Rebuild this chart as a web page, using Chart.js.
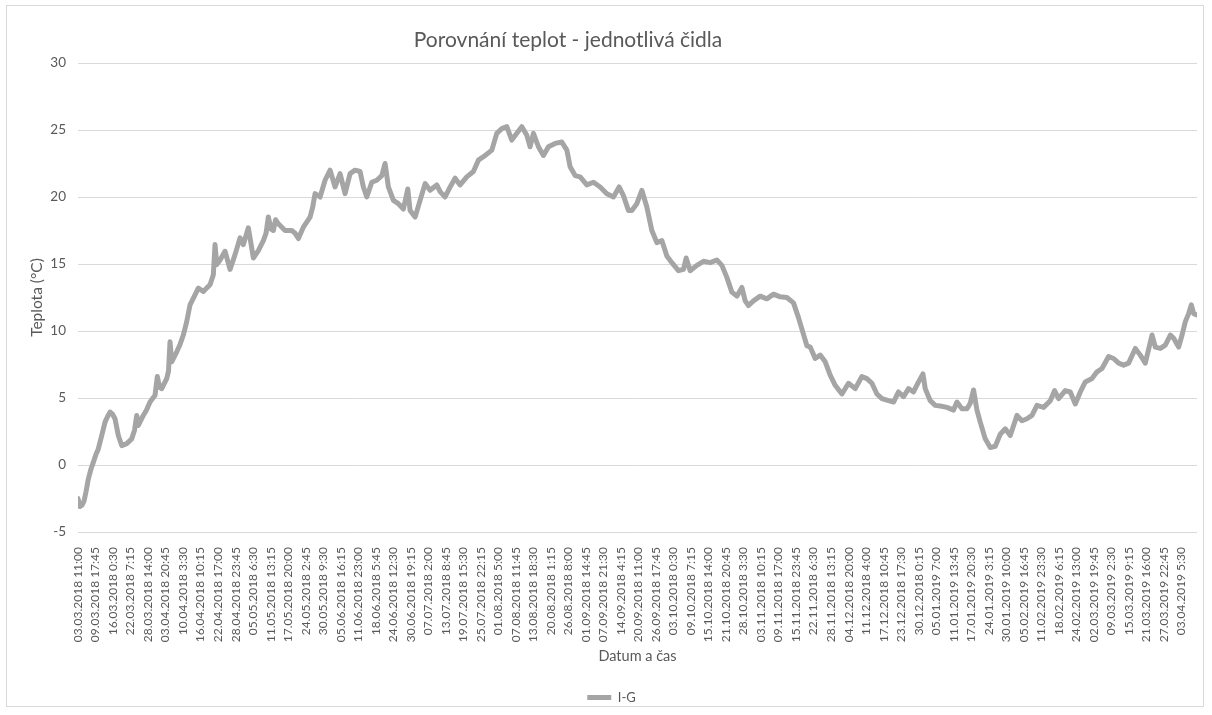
<!DOCTYPE html>
<html lang="cs">
<head>
<meta charset="utf-8">
<title>Porovnání teplot - jednotlivá čidla</title>
<script src="https://cdn.jsdelivr.net/npm/chart.js@4.4.1/dist/chart.umd.min.js"></script>
<style>
    html, body { margin: 0; padding: 0; background: #fff; }
    #wrap { position: relative; width: 1212px; height: 715px; }
    #frame { position: absolute; left: 6px; top: 5px; width: 1198px; height: 702px; border: 1px solid #d9d9d9; box-sizing: border-box; }
    #chart { position: absolute; left: 0; top: 0; }
</style>
</head>
<body>
<div id="wrap">
    <div id="frame"></div>
    <canvas id="chart" width="1212" height="715"></canvas>
</div>
<script>
// Texty grafu
const chartTitle = 'Porovnání teplot - jednotlivá čidla';
const yTitle = 'Teplota (°C)';
const xTitle = 'Datum a čas';
const seriesName = 'I-G';

// Popisky osy X (krok 6 dní 6:45 = 6.28125 dne)
const tickStepDays = 6.28125;
const tickLabels = [
    '03.03.2018 11:00', '09.03.2018 17:45', '16.03.2018 0:30', '22.03.2018 7:15',
    '28.03.2018 14:00', '03.04.2018 20:45', '10.04.2018 3:30', '16.04.2018 10:15',
    '22.04.2018 17:00', '28.04.2018 23:45', '05.05.2018 6:30', '11.05.2018 13:15',
    '17.05.2018 20:00', '24.05.2018 2:45', '30.05.2018 9:30', '05.06.2018 16:15',
    '11.06.2018 23:00', '18.06.2018 5:45', '24.06.2018 12:30', '30.06.2018 19:15',
    '07.07.2018 2:00', '13.07.2018 8:45', '19.07.2018 15:30', '25.07.2018 22:15',
    '01.08.2018 5:00', '07.08.2018 11:45', '13.08.2018 18:30', '20.08.2018 1:15',
    '26.08.2018 8:00', '01.09.2018 14:45', '07.09.2018 21:30', '14.09.2018 4:15',
    '20.09.2018 11:00', '26.09.2018 17:45', '03.10.2018 0:30', '09.10.2018 7:15',
    '15.10.2018 14:00', '21.10.2018 20:45', '28.10.2018 3:30', '03.11.2018 10:15',
    '09.11.2018 17:00', '15.11.2018 23:45', '22.11.2018 6:30', '28.11.2018 13:15',
    '04.12.2018 20:00', '11.12.2018 4:00', '17.12.2018 10:45', '23.12.2018 17:30',
    '30.12.2018 0:15', '05.01.2019 7:00', '11.01.2019 13:45', '17.01.2019 20:30',
    '24.01.2019 3:15', '30.01.2019 10:00', '05.02.2019 16:45', '11.02.2019 23:30',
    '18.02.2019 6:15', '24.02.2019 13:00', '02.03.2019 19:45', '09.03.2019 2:30',
    '15.03.2019 9:15', '21.03.2019 16:00', '27.03.2019 22:45', '03.04.2019 5:30'
];
const lastDay = 401.3;

// Dny od 03.03.2018 11:00
const days = [
    0, 0.72, 1.43, 2.15, 2.87, 3.69, 4.66, 5.49, 6.46, 7.28,
    8.50, 9.69, 10.58, 11.48, 12.38, 13.27, 14.46, 15.68, 17.47, 19.26,
    20.27, 21.06, 21.63, 23.42, 24.57, 25.83, 27.62, 28.45, 29.24, 30.02,
    31.82, 32.46, 33.00, 33.61, 35.41, 36.59, 37.77, 38.99, 40.18, 41.97,
    43.15, 44.95, 46.10, 47.35, 48.54, 49.14, 49.75, 50.94, 52.73, 54.53,
    56.32, 58.11, 59.30, 61.09, 62.06, 62.88, 64.68, 66.47, 67.44, 68.26,
    69.23, 70.06, 70.85, 71.85, 74.26, 76.66, 77.84, 79.03, 80.82, 83.23,
    84.12, 85.02, 86.81, 88.60, 90.40, 92.19, 93.98, 95.78, 97.57, 99.36,
    101.16, 102.34, 103.56, 105.36, 107.15, 108.95, 110.13, 111.31, 113.11, 114.90,
    116.69, 118.27, 119.10, 120.89, 122.68, 124.48, 126.27, 128.67, 129.86, 131.65,
    133.45, 135.24, 137.03, 139.43, 141.80, 143.59, 146.00, 148.40, 150.19, 151.99,
    153.78, 155.57, 157.37, 159.16, 160.96, 162.14, 163.33, 165.12, 166.91, 168.71,
    171.11, 173.51, 175.31, 176.49, 178.28, 180.08, 182.48, 184.85, 187.25, 189.65,
    192.02, 194.06, 195.60, 197.40, 198.62, 200.41, 202.21, 204.00, 205.79, 207.59,
    209.38, 211.18, 212.97, 215.34, 217.13, 218.10, 219.53, 221.94, 224.31, 226.71,
    229.11, 230.91, 232.70, 234.49, 236.29, 238.08, 239.27, 240.45, 242.24, 244.65,
    247.05, 249.42, 251.82, 254.22, 256.59, 258.38, 260.18, 261.40, 262.58, 264.38,
    266.17, 267.97, 269.76, 271.55, 273.96, 276.32, 278.73, 281.13, 282.92, 284.72,
    286.51, 288.31, 290.67, 292.47, 294.26, 296.06, 297.85, 299.64, 301.44, 303.02,
    303.84, 305.63, 307.43, 309.22, 311.62, 313.99, 315.21, 317.00, 318.80, 319.98,
    321.17, 322.39, 323.57, 325.36, 327.16, 328.95, 330.74, 332.54, 334.33, 336.73,
    338.53, 340.32, 342.12, 343.91, 346.28, 348.68, 350.22, 351.66, 354.06, 355.86,
    357.65, 359.45, 361.24, 363.64, 365.44, 367.23, 369.60, 371.39, 373.19, 374.98,
    376.77, 379.18, 380.97, 382.76, 385.17, 386.35, 388.15, 389.94, 391.74, 392.92,
    394.72, 395.94, 397.12, 398.30, 399.27, 400.10, 401.24
];

// Teplota čidla I-G (°C)
const temps = [
    -2.5, -3.1, -3.0, -2.7, -2.0, -1.05, -0.3, 0.2, 0.8, 1.2,
    2.2, 3.2, 3.6, 3.95, 3.8, 3.45, 2.2, 1.45, 1.6, 1.95,
    2.6, 3.7, 2.95, 3.7, 4.1, 4.7, 5.2, 6.6, 5.8, 5.7,
    6.45, 7.0, 9.2, 7.7, 8.45, 9.0, 9.7, 10.7, 11.95, 12.7,
    13.2, 12.95, 13.2, 13.45, 14.2, 16.45, 14.95, 15.3, 15.95, 14.6,
    15.7, 16.95, 16.45, 17.7, 16.5, 15.45, 16.0, 16.75, 17.3, 18.5,
    17.6, 17.5, 18.3, 18.0, 17.5, 17.5, 17.3, 16.9, 17.75, 18.5,
    19.2, 20.25, 20.0, 21.25, 22.0, 20.75, 21.75, 20.25, 21.75, 22.0,
    21.9, 20.75, 20.0, 21.1, 21.25, 21.6, 22.5, 20.75, 19.75, 19.5,
    19.1, 20.6, 19.0, 18.5, 19.75, 21.0, 20.5, 20.9, 20.4, 20.0,
    20.75, 21.4, 20.9, 21.5, 21.9, 22.75, 23.1, 23.5, 24.75, 25.1,
    25.25, 24.25, 24.75, 25.25, 24.6, 23.75, 24.75, 23.75, 23.1, 23.75,
    24.0, 24.1, 23.5, 22.25, 21.6, 21.5, 20.9, 21.1, 20.75, 20.25,
    20.0, 20.75, 20.1, 19.0, 19.0, 19.5, 20.5, 19.25, 17.5, 16.6,
    16.75, 15.6, 15.1, 14.5, 14.6, 15.45, 14.5, 14.9, 15.2, 15.1,
    15.3, 14.9, 14.0, 12.9, 12.6, 13.25, 12.25, 11.9, 12.25, 12.6,
    12.4, 12.75, 12.55, 12.5, 12.1, 11.0, 9.75, 8.9, 8.8, 7.95,
    8.2, 7.7, 6.7, 5.95, 5.3, 6.1, 5.7, 6.6, 6.45, 6.1,
    5.3, 4.95, 4.8, 4.7, 5.45, 5.1, 5.7, 5.45, 6.2, 6.8,
    5.7, 4.8, 4.45, 4.4, 4.3, 4.1, 4.7, 4.2, 4.2, 4.6,
    5.6, 4.1, 3.2, 1.95, 1.3, 1.4, 2.3, 2.7, 2.2, 3.7,
    3.3, 3.45, 3.7, 4.45, 4.3, 4.8, 5.55, 4.95, 5.55, 5.45,
    4.55, 5.45, 6.2, 6.45, 6.95, 7.2, 8.1, 7.95, 7.6, 7.45,
    7.6, 8.7, 8.2, 7.6, 9.7, 8.8, 8.7, 8.95, 9.7, 9.45,
    8.8, 9.7, 10.7, 11.3, 11.95, 11.3, 11.2
];

const textColor = '#595959';
const gridColor = '#d9d9d9';
const lineColor = '#a5a5a5';
const fontFamily = 'Lato, "Open Sans", sans-serif';

// Nadpis grafu (Excel ho má mírně vlevo od středu)
const titlePlugin = {
    id: 'titlePlugin',
    afterDraw(chart) {
        const ctx = chart.ctx;
        ctx.save();
        ctx.font = '21px ' + fontFamily;
        ctx.fillStyle = textColor;
        ctx.textAlign = 'center';
        ctx.textBaseline = 'middle';
        ctx.fillText(chartTitle, 568, 40);
        ctx.restore();
    }
};

const ctx = document.getElementById('chart').getContext('2d');

new Chart(ctx, {
    type: 'line',
    data: {
        datasets: [{
            label: seriesName,
            data: days.map((d, i) => ({ x: d, y: temps[i] })),
            borderColor: lineColor,
            backgroundColor: lineColor,
            borderWidth: 5,
            pointRadius: 0,
            tension: 0,
            borderJoinStyle: 'round',
            borderCapStyle: 'round'
        }]
    },
    options: {
        responsive: false,
        animation: false,
        layout: {
            padding: { left: 26, right: 15, top: 63, bottom: 1 }
        },
        scales: {
            x: {
                type: 'linear',
                min: 0,
                max: lastDay,
                afterBuildTicks: function(scale) {
                    scale.ticks = tickLabels.map((_, i) => ({ value: i * tickStepDays }));
                },
                afterFit: function(scale) {
                    scale.height = 149;
                },
                ticks: {
                    autoSkip: false,
                    minRotation: 90,
                    maxRotation: 90,
                    padding: 7,
                    color: textColor,
                    font: { family: fontFamily, size: 12 },
                    callback: function(value, index) {
                        return tickLabels[index];
                    }
                },
                grid: { display: false },
                border: { display: false },
                title: {
                    display: true,
                    text: xTitle,
                    color: textColor,
                    font: { family: fontFamily, size: 14.5 },
                    padding: { top: 0, bottom: 16 }
                }
            },
            y: {
                min: -5,
                max: 30,
                afterFit: function(scale) {
                    scale.width = 52;
                },
                ticks: {
                    stepSize: 5,
                    padding: 12,
                    color: textColor,
                    font: { family: fontFamily, size: 13.5 }
                },
                grid: {
                    color: gridColor,
                    lineWidth: 1,
                    drawTicks: false
                },
                border: { display: false },
                title: {
                    display: true,
                    text: yTitle,
                    color: textColor,
                    font: { family: fontFamily, size: 15.5 },
                    padding: { top: 2, bottom: 0 }
                }
            }
        },
        plugins: {
            title: { display: false },
            tooltip: { enabled: false },
            legend: {
                position: 'bottom',
                labels: {
                    usePointStyle: true,
                    pointStyle: 'line',
                    pointStyleWidth: 24,
                    color: textColor,
                    font: { family: fontFamily, size: 13 }
                }
            }
        }
    },
    plugins: [titlePlugin]
});
</script>
</body>
</html>
